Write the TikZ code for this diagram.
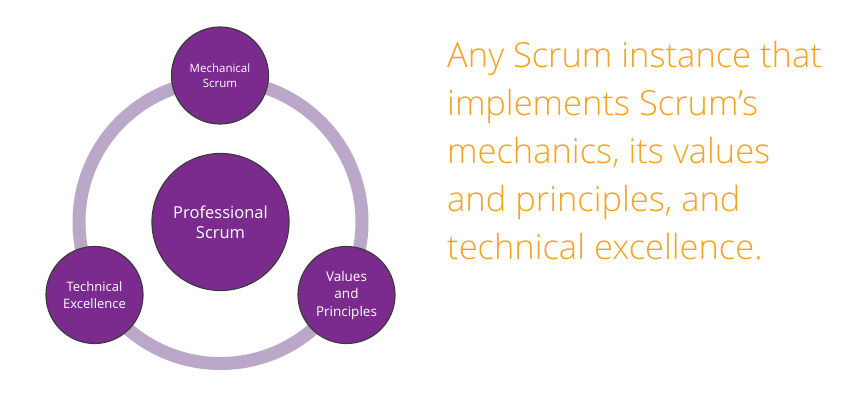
\documentclass[tikz,border=0pt]{standalone}
\usepackage{fontspec}
\setmainfont{Open Sans}
\newfontfamily\lightf{Open Sans Light}
\definecolor{ringc}{HTML}{BBA7C8}
\definecolor{discc}{HTML}{7A2B8D}
\definecolor{edgec}{HTML}{3C3C3C}
\definecolor{orangec}{HTML}{F5A320}
\tikzset{
  disc/.style={circle, fill=discc, draw=edgec, line width=1.2pt, text=white, align=center, inner sep=0pt},
  blurb/.style={anchor=north west, text=orangec, align=left, inner sep=0pt}
}
\begin{document}
\begin{tikzpicture}[x=1pt,y=-1pt]
\useasboundingbox[fill=white] (0,0) rectangle (856,419);
\coordinate (c) at (220.5,222);
\draw[ringc, line width=13pt] (c) circle[radius=141.5];
\node[disc, minimum size=137pt, font=\fontsize{16.5}{20}\selectfont] (ps) at (c) {Professional\\Scrum};
\node[disc, minimum size=97pt, font=\fontsize{11.5}{14.5}\selectfont] (ms) at (220,75.5) {Mechanical\\Scrum};
\node[disc, minimum size=97pt, font=\fontsize{13}{16.5}\selectfont] (te) at (94.5,295) {Technical\\Excellence};
\node[disc, minimum size=97pt, font=\fontsize{13.5}{17.5}\selectfont] (vp) at (346.5,295) {Values\\and\\Principles};
\node[blurb, font=\lightf\fontsize{34.5}{48}\selectfont] (txt) at (447,41) {Any Scrum instance that\\implements Scrum’s\\mechanics, its values\\and principles, and\\technical excellence.};
\end{tikzpicture}
\end{document}
